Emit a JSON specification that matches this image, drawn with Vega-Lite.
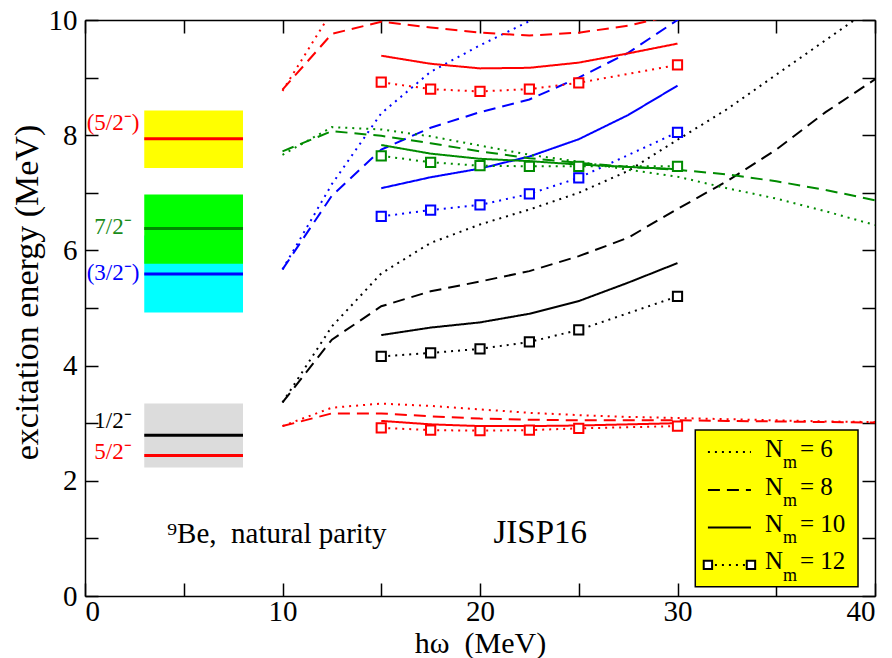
{
  "$schema": "https://vega.github.io/schema/vega-lite/v6.json",
  "width": 790,
  "height": 576,
  "autosize": "none",
  "padding": {"left": 85, "top": 20, "right": 17, "bottom": 62},
  "background": "white",
  "config": {
    "view": {"stroke": null},
    "font": "Liberation Serif",
    "axis": {
      "domainColor": "black", "domainWidth": 1.5,
      "tickColor": "black", "tickWidth": 1.5,
      "labelFont": "Liberation Serif", "labelFontSize": 29, "labelColor": "black",
      "titleFont": "Liberation Serif", "titleFontSize": 30, "titleFontWeight": "normal", "titleColor": "black",
      "grid": false
    }
  },
  "datasets": {
    "calc": [
      {"state": "1/2", "Nm": 6, "hw": 10, "E": 3.36}, {"state": "1/2", "Nm": 6, "hw": 12.5, "E": 4.68}, {"state": "1/2", "Nm": 6, "hw": 15, "E": 5.6}, {"state": "1/2", "Nm": 6, "hw": 17.5, "E": 6.13}, {"state": "1/2", "Nm": 6, "hw": 20, "E": 6.45}, {"state": "1/2", "Nm": 6, "hw": 22.5, "E": 6.71}, {"state": "1/2", "Nm": 6, "hw": 25, "E": 7.0}, {"state": "1/2", "Nm": 6, "hw": 27.5, "E": 7.38}, {"state": "1/2", "Nm": 6, "hw": 30, "E": 7.92}, {"state": "1/2", "Nm": 6, "hw": 32.5, "E": 8.45}, {"state": "1/2", "Nm": 6, "hw": 35, "E": 9.05}, {"state": "1/2", "Nm": 6, "hw": 37.5, "E": 9.65}, {"state": "1/2", "Nm": 6, "hw": 40, "E": 10.25},
      {"state": "1/2", "Nm": 8, "hw": 10, "E": 3.36}, {"state": "1/2", "Nm": 8, "hw": 12.5, "E": 4.45}, {"state": "1/2", "Nm": 8, "hw": 15, "E": 5.03}, {"state": "1/2", "Nm": 8, "hw": 17.5, "E": 5.29}, {"state": "1/2", "Nm": 8, "hw": 20, "E": 5.46}, {"state": "1/2", "Nm": 8, "hw": 22.5, "E": 5.64}, {"state": "1/2", "Nm": 8, "hw": 25, "E": 5.9}, {"state": "1/2", "Nm": 8, "hw": 27.5, "E": 6.22}, {"state": "1/2", "Nm": 8, "hw": 30, "E": 6.72}, {"state": "1/2", "Nm": 8, "hw": 32.5, "E": 7.2}, {"state": "1/2", "Nm": 8, "hw": 35, "E": 7.75}, {"state": "1/2", "Nm": 8, "hw": 37.5, "E": 8.4}, {"state": "1/2", "Nm": 8, "hw": 40, "E": 8.97},
      {"state": "1/2", "Nm": 10, "hw": 15, "E": 4.53}, {"state": "1/2", "Nm": 10, "hw": 17.5, "E": 4.66}, {"state": "1/2", "Nm": 10, "hw": 20, "E": 4.75}, {"state": "1/2", "Nm": 10, "hw": 22.5, "E": 4.9}, {"state": "1/2", "Nm": 10, "hw": 25, "E": 5.12}, {"state": "1/2", "Nm": 10, "hw": 27.5, "E": 5.44}, {"state": "1/2", "Nm": 10, "hw": 30, "E": 5.78},
      {"state": "1/2", "Nm": 12, "hw": 15, "E": 4.16}, {"state": "1/2", "Nm": 12, "hw": 17.5, "E": 4.22}, {"state": "1/2", "Nm": 12, "hw": 20, "E": 4.29}, {"state": "1/2", "Nm": 12, "hw": 22.5, "E": 4.41}, {"state": "1/2", "Nm": 12, "hw": 25, "E": 4.62}, {"state": "1/2", "Nm": 12, "hw": 30, "E": 5.2},

      {"state": "5/2", "Nm": 6, "hw": 10, "E": 2.95}, {"state": "5/2", "Nm": 6, "hw": 12.5, "E": 3.27}, {"state": "5/2", "Nm": 6, "hw": 15, "E": 3.34}, {"state": "5/2", "Nm": 6, "hw": 17.5, "E": 3.3}, {"state": "5/2", "Nm": 6, "hw": 20, "E": 3.24}, {"state": "5/2", "Nm": 6, "hw": 22.5, "E": 3.18}, {"state": "5/2", "Nm": 6, "hw": 25, "E": 3.14}, {"state": "5/2", "Nm": 6, "hw": 27.5, "E": 3.11}, {"state": "5/2", "Nm": 6, "hw": 30, "E": 3.09}, {"state": "5/2", "Nm": 6, "hw": 32.5, "E": 3.07}, {"state": "5/2", "Nm": 6, "hw": 35, "E": 3.05}, {"state": "5/2", "Nm": 6, "hw": 37.5, "E": 3.03}, {"state": "5/2", "Nm": 6, "hw": 40, "E": 3.02},
      {"state": "5/2", "Nm": 8, "hw": 10, "E": 2.95}, {"state": "5/2", "Nm": 8, "hw": 12.5, "E": 3.17}, {"state": "5/2", "Nm": 8, "hw": 15, "E": 3.17}, {"state": "5/2", "Nm": 8, "hw": 17.5, "E": 3.12}, {"state": "5/2", "Nm": 8, "hw": 20, "E": 3.08}, {"state": "5/2", "Nm": 8, "hw": 22.5, "E": 3.06}, {"state": "5/2", "Nm": 8, "hw": 25, "E": 3.05}, {"state": "5/2", "Nm": 8, "hw": 27.5, "E": 3.05}, {"state": "5/2", "Nm": 8, "hw": 30, "E": 3.05}, {"state": "5/2", "Nm": 8, "hw": 32.5, "E": 3.04}, {"state": "5/2", "Nm": 8, "hw": 35, "E": 3.03}, {"state": "5/2", "Nm": 8, "hw": 37.5, "E": 3.02}, {"state": "5/2", "Nm": 8, "hw": 40, "E": 3.01},
      {"state": "5/2", "Nm": 10, "hw": 15, "E": 3.04}, {"state": "5/2", "Nm": 10, "hw": 17.5, "E": 2.98}, {"state": "5/2", "Nm": 10, "hw": 20, "E": 2.95}, {"state": "5/2", "Nm": 10, "hw": 22.5, "E": 2.95}, {"state": "5/2", "Nm": 10, "hw": 25, "E": 2.96}, {"state": "5/2", "Nm": 10, "hw": 27.5, "E": 2.98}, {"state": "5/2", "Nm": 10, "hw": 30, "E": 3.0},
      {"state": "5/2", "Nm": 12, "hw": 15, "E": 2.92}, {"state": "5/2", "Nm": 12, "hw": 17.5, "E": 2.88}, {"state": "5/2", "Nm": 12, "hw": 20, "E": 2.87}, {"state": "5/2", "Nm": 12, "hw": 22.5, "E": 2.88}, {"state": "5/2", "Nm": 12, "hw": 25, "E": 2.91}, {"state": "5/2", "Nm": 12, "hw": 30, "E": 2.95},

      {"state": "3/2", "Nm": 6, "hw": 10, "E": 5.67}, {"state": "3/2", "Nm": 6, "hw": 12.5, "E": 7.15}, {"state": "3/2", "Nm": 6, "hw": 15, "E": 8.38}, {"state": "3/2", "Nm": 6, "hw": 17.5, "E": 9.1}, {"state": "3/2", "Nm": 6, "hw": 20, "E": 9.56}, {"state": "3/2", "Nm": 6, "hw": 22.5, "E": 9.98}, {"state": "3/2", "Nm": 6, "hw": 25, "E": 10.4},
      {"state": "3/2", "Nm": 8, "hw": 10, "E": 5.67}, {"state": "3/2", "Nm": 8, "hw": 12.5, "E": 6.95}, {"state": "3/2", "Nm": 8, "hw": 15, "E": 7.75}, {"state": "3/2", "Nm": 8, "hw": 17.5, "E": 8.13}, {"state": "3/2", "Nm": 8, "hw": 20, "E": 8.4}, {"state": "3/2", "Nm": 8, "hw": 22.5, "E": 8.62}, {"state": "3/2", "Nm": 8, "hw": 25, "E": 9.0}, {"state": "3/2", "Nm": 8, "hw": 27.5, "E": 9.43}, {"state": "3/2", "Nm": 8, "hw": 30, "E": 10.0}, {"state": "3/2", "Nm": 8, "hw": 32.5, "E": 10.6},
      {"state": "3/2", "Nm": 10, "hw": 15, "E": 7.08}, {"state": "3/2", "Nm": 10, "hw": 17.5, "E": 7.27}, {"state": "3/2", "Nm": 10, "hw": 20, "E": 7.42}, {"state": "3/2", "Nm": 10, "hw": 22.5, "E": 7.63}, {"state": "3/2", "Nm": 10, "hw": 25, "E": 7.93}, {"state": "3/2", "Nm": 10, "hw": 27.5, "E": 8.35}, {"state": "3/2", "Nm": 10, "hw": 30, "E": 8.86},
      {"state": "3/2", "Nm": 12, "hw": 15, "E": 6.59}, {"state": "3/2", "Nm": 12, "hw": 17.5, "E": 6.7}, {"state": "3/2", "Nm": 12, "hw": 20, "E": 6.79}, {"state": "3/2", "Nm": 12, "hw": 22.5, "E": 6.98}, {"state": "3/2", "Nm": 12, "hw": 25, "E": 7.26}, {"state": "3/2", "Nm": 12, "hw": 30, "E": 8.05},

      {"state": "7/2", "Nm": 6, "hw": 10, "E": 7.66}, {"state": "7/2", "Nm": 6, "hw": 12.5, "E": 8.14}, {"state": "7/2", "Nm": 6, "hw": 15, "E": 8.1}, {"state": "7/2", "Nm": 6, "hw": 17.5, "E": 7.98}, {"state": "7/2", "Nm": 6, "hw": 20, "E": 7.82}, {"state": "7/2", "Nm": 6, "hw": 22.5, "E": 7.66}, {"state": "7/2", "Nm": 6, "hw": 25, "E": 7.54}, {"state": "7/2", "Nm": 6, "hw": 27.5, "E": 7.4}, {"state": "7/2", "Nm": 6, "hw": 30, "E": 7.28}, {"state": "7/2", "Nm": 6, "hw": 32.5, "E": 7.08}, {"state": "7/2", "Nm": 6, "hw": 35, "E": 6.9}, {"state": "7/2", "Nm": 6, "hw": 37.5, "E": 6.68}, {"state": "7/2", "Nm": 6, "hw": 40, "E": 6.44},
      {"state": "7/2", "Nm": 8, "hw": 10, "E": 7.72}, {"state": "7/2", "Nm": 8, "hw": 12.5, "E": 8.07}, {"state": "7/2", "Nm": 8, "hw": 15, "E": 7.99}, {"state": "7/2", "Nm": 8, "hw": 17.5, "E": 7.86}, {"state": "7/2", "Nm": 8, "hw": 20, "E": 7.72}, {"state": "7/2", "Nm": 8, "hw": 22.5, "E": 7.6}, {"state": "7/2", "Nm": 8, "hw": 25, "E": 7.52}, {"state": "7/2", "Nm": 8, "hw": 27.5, "E": 7.45}, {"state": "7/2", "Nm": 8, "hw": 30, "E": 7.4}, {"state": "7/2", "Nm": 8, "hw": 32.5, "E": 7.32}, {"state": "7/2", "Nm": 8, "hw": 35, "E": 7.2}, {"state": "7/2", "Nm": 8, "hw": 37.5, "E": 7.05}, {"state": "7/2", "Nm": 8, "hw": 40, "E": 6.87},
      {"state": "7/2", "Nm": 10, "hw": 15, "E": 7.83}, {"state": "7/2", "Nm": 10, "hw": 17.5, "E": 7.68}, {"state": "7/2", "Nm": 10, "hw": 20, "E": 7.59}, {"state": "7/2", "Nm": 10, "hw": 22.5, "E": 7.55}, {"state": "7/2", "Nm": 10, "hw": 25, "E": 7.49}, {"state": "7/2", "Nm": 10, "hw": 27.5, "E": 7.45}, {"state": "7/2", "Nm": 10, "hw": 30, "E": 7.41},
      {"state": "7/2", "Nm": 12, "hw": 15, "E": 7.64}, {"state": "7/2", "Nm": 12, "hw": 17.5, "E": 7.53}, {"state": "7/2", "Nm": 12, "hw": 20, "E": 7.47}, {"state": "7/2", "Nm": 12, "hw": 22.5, "E": 7.46}, {"state": "7/2", "Nm": 12, "hw": 25, "E": 7.46}, {"state": "7/2", "Nm": 12, "hw": 30, "E": 7.46},

      {"state": "5/2b", "Nm": 6, "hw": 10, "E": 8.77}, {"state": "5/2b", "Nm": 6, "hw": 12.5, "E": 10.15},
      {"state": "5/2b", "Nm": 8, "hw": 10, "E": 8.79}, {"state": "5/2b", "Nm": 8, "hw": 12.5, "E": 9.76}, {"state": "5/2b", "Nm": 8, "hw": 15, "E": 9.97}, {"state": "5/2b", "Nm": 8, "hw": 17.5, "E": 9.87}, {"state": "5/2b", "Nm": 8, "hw": 20, "E": 9.78}, {"state": "5/2b", "Nm": 8, "hw": 22.5, "E": 9.73}, {"state": "5/2b", "Nm": 8, "hw": 25, "E": 9.78}, {"state": "5/2b", "Nm": 8, "hw": 27.5, "E": 9.9}, {"state": "5/2b", "Nm": 8, "hw": 30, "E": 10.1},
      {"state": "5/2b", "Nm": 10, "hw": 15, "E": 9.38}, {"state": "5/2b", "Nm": 10, "hw": 17.5, "E": 9.24}, {"state": "5/2b", "Nm": 10, "hw": 20, "E": 9.16}, {"state": "5/2b", "Nm": 10, "hw": 22.5, "E": 9.17}, {"state": "5/2b", "Nm": 10, "hw": 25, "E": 9.26}, {"state": "5/2b", "Nm": 10, "hw": 27.5, "E": 9.42}, {"state": "5/2b", "Nm": 10, "hw": 30, "E": 9.59},
      {"state": "5/2b", "Nm": 12, "hw": 15, "E": 8.92}, {"state": "5/2b", "Nm": 12, "hw": 17.5, "E": 8.8}, {"state": "5/2b", "Nm": 12, "hw": 20, "E": 8.76}, {"state": "5/2b", "Nm": 12, "hw": 22.5, "E": 8.8}, {"state": "5/2b", "Nm": 12, "hw": 25, "E": 8.91}, {"state": "5/2b", "Nm": 12, "hw": 30, "E": 9.22}
    ],
    "levels": [
      {"state": "5/2b", "E": 7.94, "lo": 7.43, "hi": 8.43, "label": "(5/2⁻)", "ly": 8.22},
      {"state": "3/2", "E": 5.59, "lo": 4.92, "hi": 6.26, "label": "(3/2⁻)", "ly": 5.6},
      {"state": "7/2", "E": 6.38, "lo": 5.77, "hi": 6.97, "label": "7/2⁻", "ly": 6.4},
      {"state": "1/2", "E": 2.79, "lo": 2.23, "hi": 3.34, "label": "1/2⁻", "ly": 3.04},
      {"state": "5/2", "E": 2.44, "label": "5/2⁻", "ly": 2.5}
    ],
    "legend": [
      {"Nm": 6, "ly": 2.5, "eq": "= 6"},
      {"Nm": 8, "ly": 1.84, "eq": "= 8"},
      {"Nm": 10, "ly": 1.19, "eq": "= 10"},
      {"Nm": 12, "ly": 0.54, "eq": "= 12"}
    ]
  },
  "resolve": {"axis": {"x": "independent", "y": "independent"}},
  "layer": [
    {
      "data": {"name": "levels"},
      "transform": [{"filter": "isValid(datum.lo)"}],
      "mark": {"type": "rect"},
      "encoding": {
        "x": {"datum": 3, "type": "quantitative", "scale": {"domain": [0, 40], "nice": false, "zero": false}, "axis": null},
        "x2": {"datum": 8},
        "y": {"field": "lo", "type": "quantitative", "scale": {"domain": [0, 10], "nice": false, "zero": false}, "axis": null},
        "y2": {"field": "hi"},
        "fill": {"field": "state", "type": "nominal", "scale": {"domain": ["5/2b", "3/2", "7/2", "1/2"], "range": ["#ffff00", "#00ffff", "#00ff00", "#dcdcdc"]}, "legend": null}
      }
    },
    {
      "data": {"name": "levels"},
      "mark": {"type": "rule", "strokeWidth": 3},
      "encoding": {
        "x": {"datum": 3, "type": "quantitative", "axis": null},
        "x2": {"datum": 8},
        "y": {"field": "E", "type": "quantitative", "axis": null},
        "stroke": {"field": "state", "type": "nominal", "scale": {"domain": ["1/2", "5/2", "3/2", "7/2", "5/2b"], "range": ["black", "#ff0000", "#0000ff", "#008b00", "#ff0000"]}, "legend": null}
      }
    },
    {
      "data": {"name": "calc"},
      "mark": {"type": "line", "clip": true, "strokeWidth": 2},
      "encoding": {
        "x": {"field": "hw", "type": "quantitative", "scale": {"domain": [0, 40], "nice": false, "zero": false},
          "axis": {"orient": "bottom", "values": [0, 5, 10, 15, 20, 25, 30, 35, 40], "labelExpr": "datum.value % 10 === 0 ? datum.label : ''",
            "labelFont": "Liberation Serif", "labelFontSize": 29, "titleFont": "Liberation Serif", "titleFontSize": 30,
            "tickSize": -13, "labelPadding": 14, "title": "hω\u00a0\u00a0(MeV)", "titleBaseline": "alphabetic", "titleY": 56,
            "encode": {"ticks": {"update": {"y2": {"condition": {"test": "datum.value % 10 !== 0", "value": -7}, "value": -13}}}}}},
        "y": {"field": "E", "type": "quantitative", "scale": {"domain": [0, 10], "nice": false, "zero": false},
          "axis": {"orient": "left", "values": [0, 1, 2, 3, 4, 5, 6, 7, 8, 9, 10], "labelExpr": "datum.value % 2 === 0 ? datum.label : ''",
            "labelFont": "Liberation Serif", "labelFontSize": 29, "titleFont": "Liberation Serif", "titleFontSize": 34,
            "tickSize": -13, "labelPadding": 21, "title": "excitation energy (MeV)", "titleX": -41, "titleY": 272, "titleBaseline": "bottom",
            "encode": {"ticks": {"update": {"x2": {"condition": {"test": "datum.value % 2 !== 0", "value": 7}, "value": 13}}}}}},
        "stroke": {"field": "state", "type": "nominal", "legend": null},
        "strokeDash": {"field": "Nm", "type": "nominal", "scale": {"domain": [6, 8, 10, 12], "range": [[2, 5], [12, 7], [1, 0], [2, 5]]}, "legend": null}
      }
    },
    {
      "data": {"name": "calc"},
      "transform": [{"filter": "datum.Nm === 12"}],
      "mark": {"type": "point", "shape": "square", "size": 85, "filled": false, "fill": "white", "fillOpacity": 1, "strokeWidth": 2, "opacity": 1},
      "encoding": {
        "x": {"field": "hw", "type": "quantitative",
          "axis": {"orient": "top", "values": [0, 5, 10, 15, 20, 25, 30, 35, 40], "labels": false, "title": null, "tickSize": -13,
            "encode": {"ticks": {"update": {"y2": {"condition": {"test": "datum.value % 10 !== 0", "value": 7}, "value": 13}}}}}},
        "y": {"field": "E", "type": "quantitative",
          "axis": {"orient": "right", "values": [0, 1, 2, 3, 4, 5, 6, 7, 8, 9, 10], "labels": false, "title": null, "tickSize": -13,
            "encode": {"ticks": {"update": {"x2": {"condition": {"test": "datum.value % 2 !== 0", "value": -7}, "value": -13}}}}}},
        "stroke": {"field": "state", "type": "nominal", "legend": null}
      }
    },
    {
      "data": {"name": "levels"},
      "mark": {"type": "text", "font": "Liberation Serif", "fontSize": 23, "align": "center", "baseline": "middle"},
      "encoding": {
        "x": {"datum": 1.42, "type": "quantitative", "axis": null},
        "y": {"field": "ly", "type": "quantitative", "axis": null},
        "text": {"field": "label"},
        "color": {"field": "state", "type": "nominal", "scale": {"domain": ["5/2b", "7/2", "3/2", "1/2", "5/2"], "range": ["#ff0000", "#1a8c1a", "#0000ff", "black", "#ff0000"]}, "legend": null}
      }
    },
    {
      "data": {"values": [{"t": "⁹Be,\u00a0\u00a0natural parity"}]},
      "mark": {"type": "text", "font": "Liberation Serif", "fontSize": 29, "align": "left", "baseline": "alphabetic", "color": "black"},
      "encoding": {
        "x": {"datum": 4.15, "type": "quantitative", "axis": null},
        "y": {"datum": 0.92, "type": "quantitative", "axis": null},
        "text": {"field": "t"}
      }
    },
    {
      "data": {"values": [{"t": "JISP16"}]},
      "mark": {"type": "text", "font": "Liberation Serif", "fontSize": 33, "align": "center", "baseline": "alphabetic", "color": "black"},
      "encoding": {
        "x": {"datum": 23.05, "type": "quantitative", "axis": null},
        "y": {"datum": 0.92, "type": "quantitative", "axis": null},
        "text": {"field": "t"}
      }
    },
    {
      "data": {"values": [{}]},
      "mark": {"type": "rect", "fill": "#ffff00", "stroke": "black", "strokeWidth": 1.5},
      "encoding": {
        "x": {"datum": 30.9, "type": "quantitative", "axis": null},
        "x2": {"datum": 39.14},
        "y": {"datum": 0.16, "type": "quantitative", "axis": null},
        "y2": {"datum": 2.88}
      }
    },
    {
      "data": {"name": "legend"},
      "mark": {"type": "rule", "strokeWidth": 2, "color": "black"},
      "encoding": {
        "x": {"datum": 31.54, "type": "quantitative", "axis": null},
        "x2": {"datum": 33.72},
        "y": {"field": "ly", "type": "quantitative", "axis": null},
        "strokeDash": {"field": "Nm", "type": "nominal", "legend": null}
      }
    },
    {
      "data": {"name": "legend"},
      "transform": [{"filter": "datum.Nm === 12"}],
      "mark": {"type": "point", "shape": "square", "size": 70, "filled": false, "fill": "white", "fillOpacity": 1, "stroke": "black", "strokeWidth": 2, "opacity": 1},
      "encoding": {
        "x": {"datum": 31.54, "type": "quantitative", "axis": null},
        "y": {"field": "ly", "type": "quantitative", "axis": null}
      }
    },
    {
      "data": {"name": "legend"},
      "transform": [{"filter": "datum.Nm === 12"}],
      "mark": {"type": "point", "shape": "square", "size": 70, "filled": false, "fill": "white", "fillOpacity": 1, "stroke": "black", "strokeWidth": 2, "opacity": 1},
      "encoding": {
        "x": {"datum": 33.72, "type": "quantitative", "axis": null},
        "y": {"field": "ly", "type": "quantitative", "axis": null}
      }
    },
    {
      "data": {"name": "legend"},
      "mark": {"type": "text", "font": "Liberation Serif", "fontSize": 25, "align": "left", "baseline": "alphabetic", "dy": 4.5, "color": "black"},
      "encoding": {
        "x": {"datum": 34.43, "type": "quantitative", "axis": null},
        "y": {"field": "ly", "type": "quantitative", "axis": null},
        "text": {"value": "N"}
      }
    },
    {
      "data": {"name": "legend"},
      "mark": {"type": "text", "font": "Liberation Serif", "fontSize": 18, "align": "left", "baseline": "alphabetic", "dx": 18, "dy": 16, "color": "black"},
      "encoding": {
        "x": {"datum": 34.43, "type": "quantitative", "axis": null},
        "y": {"field": "ly", "type": "quantitative", "axis": null},
        "text": {"value": "m"}
      }
    },
    {
      "data": {"name": "legend"},
      "mark": {"type": "text", "font": "Liberation Serif", "fontSize": 25, "align": "left", "baseline": "alphabetic", "dx": 35, "dy": 4.5, "color": "black"},
      "encoding": {
        "x": {"datum": 34.43, "type": "quantitative", "axis": null},
        "y": {"field": "ly", "type": "quantitative", "axis": null},
        "text": {"field": "eq"}
      }
    }
  ]
}
